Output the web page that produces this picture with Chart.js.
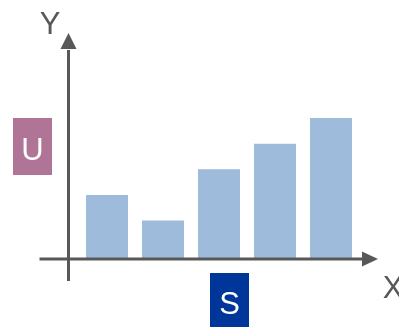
<!DOCTYPE html>
<html>
<head>
<meta charset="utf-8">
<script src="https://cdn.jsdelivr.net/npm/chart.js@4/dist/chart.umd.min.js"></script>
<style>
  html, body { margin: 0; padding: 0; background: #ffffff; }
  #wrap { width: 399px; height: 327px; position: relative; }
</style>
</head>
<body>
<div id="wrap"><canvas id="c" width="399" height="327"></canvas></div>
<script>
// Categories and bar heights
const categories = ['1', '2', '3', '4', '5'];
const values = [2.5, 1.5, 3.5, 4.5, 5.5];

// Axis captions and side labels
const axisLabelX = 'X';
const axisLabelY = 'Y';
const sideLabelLeft = 'U';
const sideLabelBottom = 'S';

const AXIS_COLOR = '#585858';
const BAR_COLOR = '#9fbbdb';
const FONT = '31px "Liberation Sans", Arial, sans-serif';

// Draws the arrowed axes, axis letters and the two coloured tag boxes
const decorations = {
  id: 'decorations',
  afterDatasetsDraw(chart) {
    const ctx = chart.ctx;
    const xs = chart.scales.x, ys = chart.scales.y;
    const base = ys.getPixelForValue(0);
    const originX = xs.left - 10.5;

    ctx.save();
    ctx.strokeStyle = AXIS_COLOR;
    ctx.fillStyle = AXIS_COLOR;
    ctx.lineWidth = 3;

    // horizontal axis
    ctx.beginPath();
    ctx.moveTo(originX - 29, base);
    ctx.lineTo(xs.right + 4, base);
    ctx.stroke();
    ctx.beginPath();
    ctx.moveTo(xs.right + 19, base);
    ctx.lineTo(xs.right + 3, base - 7.5);
    ctx.lineTo(xs.right + 3, base + 7.5);
    ctx.closePath();
    ctx.fill();

    // vertical axis
    ctx.beginPath();
    ctx.moveTo(originX, base + 22);
    ctx.lineTo(originX, ys.top - 4);
    ctx.stroke();
    ctx.beginPath();
    ctx.moveTo(originX, ys.top - 21);
    ctx.lineTo(originX - 8, ys.top - 5);
    ctx.lineTo(originX + 8, ys.top - 5);
    ctx.closePath();
    ctx.fill();

    // axis letters
    ctx.font = FONT;
    ctx.textAlign = 'center';
    ctx.textBaseline = 'alphabetic';
    ctx.fillStyle = AXIS_COLOR;
    ctx.fillText(axisLabelY, originX - 18.5, ys.top - 20);
    ctx.fillText(axisLabelX, xs.right + 34, base + 39);

    // left tag box
    ctx.fillStyle = '#b07496';
    ctx.fillRect(13, 118, 39, 57);
    ctx.fillStyle = '#ffffff';
    ctx.fillText(sideLabelLeft, 32.5, 159.5);

    // bottom tag box
    ctx.fillStyle = '#00369a';
    ctx.fillRect(210, 273, 39, 54);
    ctx.fillStyle = '#ffffff';
    ctx.fillText(sideLabelBottom, 229.5, 313.5);
    ctx.restore();
  }
};

new Chart(document.getElementById('c'), {
  type: 'bar',
  data: {
    labels: categories,
    datasets: [{
      data: values,
      backgroundColor: BAR_COLOR,
      borderWidth: 0,
      barPercentage: 0.75,
      categoryPercentage: 1.0
    }]
  },
  options: {
    responsive: false,
    animation: false,
    devicePixelRatio: 1,
    layout: { padding: { left: 79, right: 40, top: 54, bottom: 68 } },
    plugins: { legend: { display: false }, tooltip: { enabled: false } },
    scales: {
      x: { display: false },
      y: { display: false, min: 0, max: 8 }
    }
  },
  plugins: [decorations]
});
</script>
</body>
</html>
